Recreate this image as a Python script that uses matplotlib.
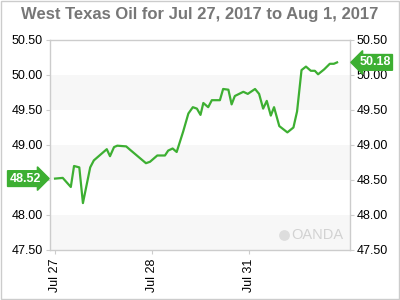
import matplotlib.pyplot as plt
import matplotlib.transforms as mtransforms

plt.rcParams['font.family'] = ['Liberation Sans', 'DejaVu Sans']

# hours of trading time since Jul 27 open (weekend skipped)
hours = [0, 1.9, 3.9, 4.7, 6.0, 6.9, 8.7, 9.6, 12.8, 13.6, 14.6, 15.4, 17.6, 18.6,
         22.5, 23.5, 25.3, 27.2, 28.0, 29.1, 30.1, 31.7, 33.0, 34.1, 35.1, 36.0,
         36.7, 37.9, 38.8, 40.8, 41.6, 42.9, 43.7, 44.5, 46.6, 47.7, 49.5, 50.5,
         51.5, 52.4, 53.4, 54.2, 55.5, 57.5, 59.0, 59.9, 61.0, 62.1, 63.3, 64.3,
         65.1, 66.6, 68.0, 69.0, 69.8]
price = [48.52, 48.53, 48.40, 48.70, 48.68, 48.17, 48.68, 48.78, 48.94, 48.84,
         48.97, 48.99, 48.98, 48.93, 48.74, 48.76, 48.85, 48.85, 48.92, 48.95,
         48.90, 49.19, 49.45, 49.54, 49.52, 49.43, 49.60, 49.54, 49.64, 49.64,
         49.80, 49.79, 49.58, 49.70, 49.76, 49.73, 49.80, 49.73, 49.52, 49.63,
         49.42, 49.54, 49.27, 49.18, 49.25, 49.48, 50.07, 50.12, 50.06, 50.06,
         50.01, 50.08, 50.16, 50.16, 50.18]
tick_hours = [0, 24, 48]
tick_labels = ['Jul 27', 'Jul 28', 'Jul 31']
yticks = [47.5, 48.0, 48.5, 49.0, 49.5, 50.0, 50.5]

green = '#3daf32'
grid_c = '#cccccc'

fig = plt.figure(figsize=(4, 3), dpi=100)
fig.patch.set_facecolor('white')
fig.add_artist(plt.Rectangle((0.002, 0.004), 0.995, 0.992, transform=fig.transFigure,
                             fill=False, edgecolor='#cccccc', lw=1))
ax = fig.add_axes([0.125, 0.1667, 0.75, 0.7])

ax.set_xlim(-1.25, 73.0)
ax.set_ylim(47.5, 50.5)

# alternating bands
for lo in [47.5, 48.5, 49.5]:
    ax.axhspan(lo, lo + 0.5, color='#f7f7f7', lw=0, zorder=0)

ax.plot(hours, price, color=green, lw=1.6, zorder=3)

ax.set_yticks(yticks)
ax.set_yticklabels(['%.2f' % v for v in yticks])
ax.set_xticks(tick_hours)
ax.set_xticklabels(tick_labels, rotation=90)
ax.tick_params(axis='y', which='both', left=True, right=True, labelleft=True,
               labelright=True, length=3, width=0.8, color=grid_c, labelsize=9, pad=2)
ax.tick_params(axis='x', length=3, width=0.8, color=grid_c, labelsize=9, pad=3)
for s in ax.spines.values():
    s.set_color(grid_c)
    s.set_linewidth(1)

# the left 48.50 label sits under the last-price box
for t in ax.yaxis.get_major_ticks():
    if abs(t.get_loc() - 48.5) < 1e-6:
        t.label1.set_visible(False)

fig.suptitle('West Texas Oil for Jul 27, 2017 to Aug 1, 2017', x=0.5, y=0.978,
             fontsize=12, fontweight='bold', color='#777777')

trans = mtransforms.blended_transform_factory(ax.transAxes, ax.transData)
ax.text(-0.083, price[0], '%.2f' % price[0], transform=trans, ha='center', va='center',
        color='white', fontsize=9, fontweight='bold', zorder=5,
        bbox=dict(boxstyle='rarrow,pad=0.15', fc=green, ec=green))
ax.text(1.083, price[-1], '%.2f' % price[-1], transform=trans, ha='center', va='center',
        color='white', fontsize=9, fontweight='bold', zorder=5,
        bbox=dict(boxstyle='larrow,pad=0.15', fc=green, ec=green), clip_on=False)

# watermark
ax.scatter([0.78], [0.072], s=45, color='#dddddd', transform=ax.transAxes, zorder=1)
ax.text(0.977, 0.072, 'OANDA', transform=ax.transAxes, ha='right', va='center',
        color='#d2d2d2', fontsize=10.5, zorder=1)

fig.savefig('out.png', dpi=100)
